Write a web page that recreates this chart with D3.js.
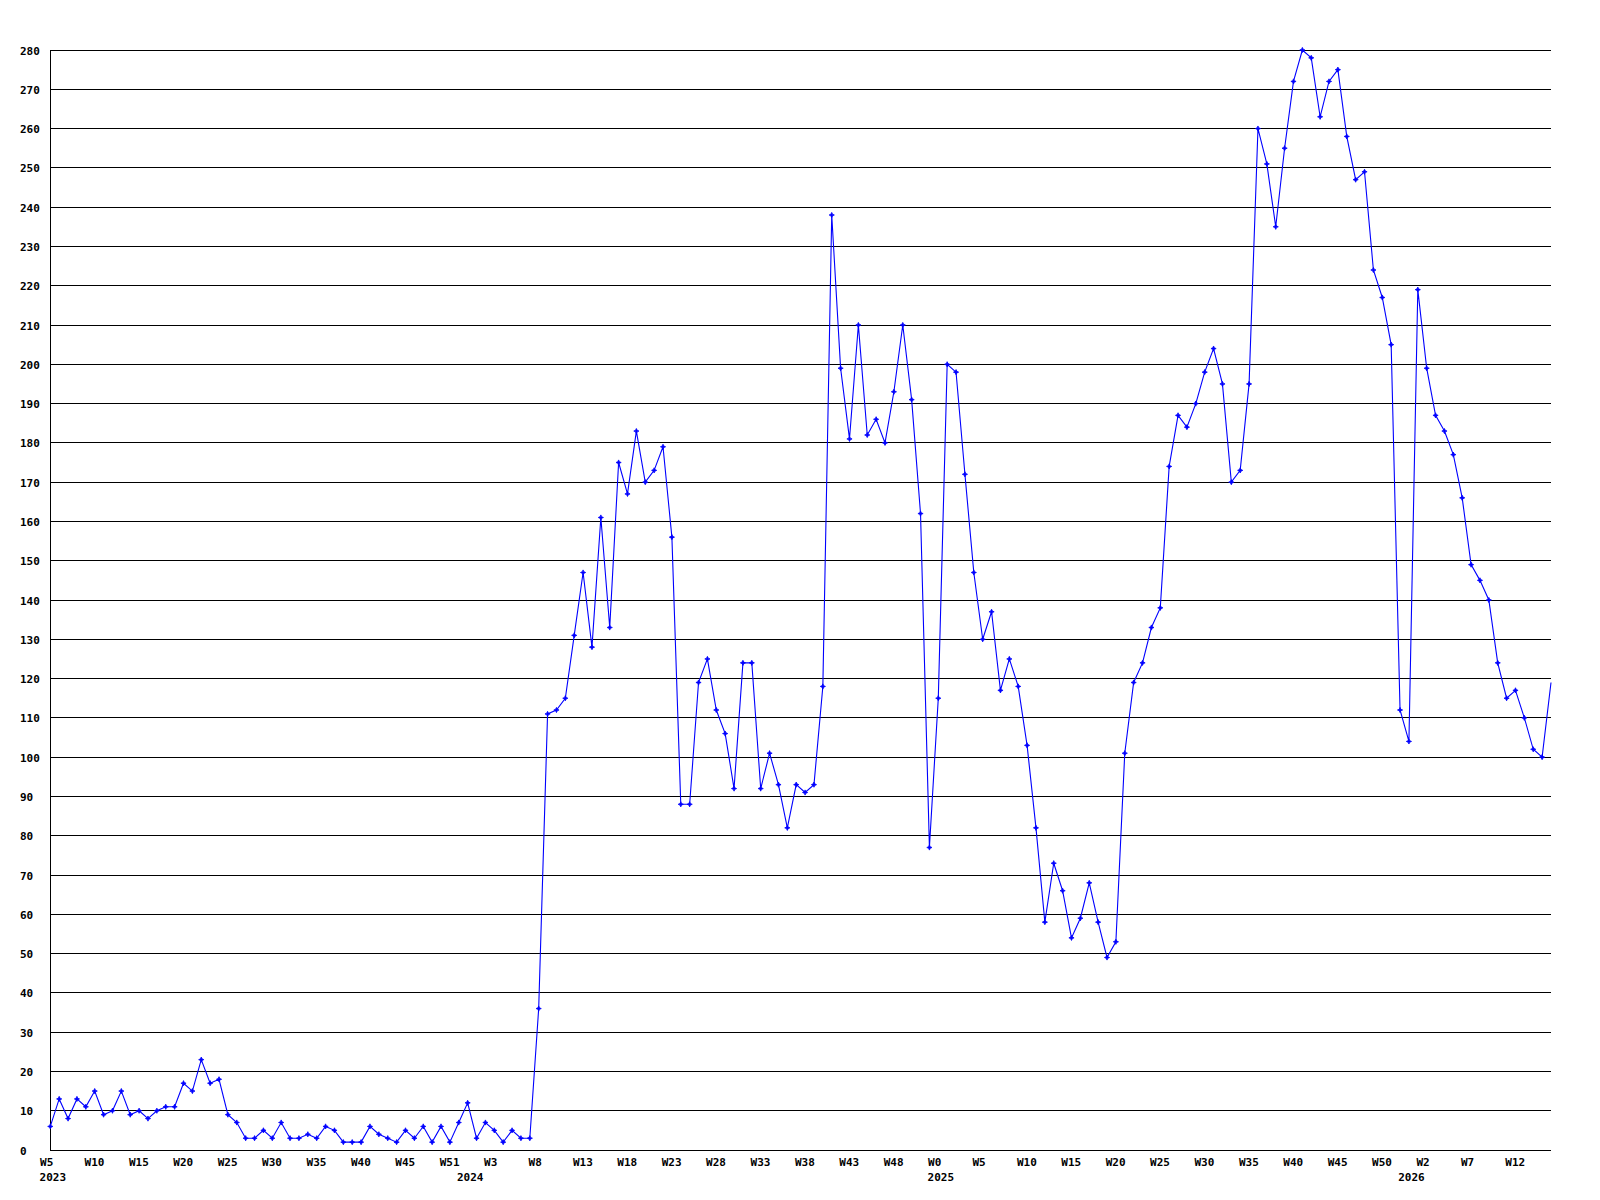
<!DOCTYPE html>
<html><head><meta charset="utf-8">
<script src="https://cdn.jsdelivr.net/npm/d3@7"></script>
<style>body{margin:0;background:#fff}svg{display:block}</style>
</head><body><svg id="c" width="1600" height="1200"></svg>
<script>
// Weekly series (one value per week, starting 2023 W5)
const values = [
  6, 13, 8, 13, 11, 15, 9, 10, 15, 9,
  10, 8, 10, 11, 11, 17, 15, 23, 17, 18,
  9, 7, 3, 3, 5, 3, 7, 3, 3, 4,
  3, 6, 5, 2, 2, 2, 6, 4, 3, 2,
  5, 3, 6, 2, 6, 2, 7, 12, 3, 7,
  5, 2, 5, 3, 3, 36, 111, 112, 115, 131,
  147, 128, 161, 133, 175, 167, 183, 170, 173, 179,
  156, 88, 88, 119, 125, 112, 106, 92, 124, 124,
  92, 101, 93, 82, 93, 91, 93, 118, 238, 199,
  181, 210, 182, 186, 180, 193, 210, 191, 162, 77,
  115, 200, 198, 172, 147, 130, 137, 117, 125, 118,
  103, 82, 58, 73, 66, 54, 59, 68, 58, 49,
  53, 101, 119, 124, 133, 138, 174, 187, 184, 190,
  198, 204, 195, 170, 173, 195, 260, 251, 235, 255,
  272, 280, 278, 263, 272, 275, 258, 247, 249, 224,
  217, 205, 112, 104, 219, 199, 187, 183, 177, 166,
  149, 145, 140, 124, 115, 117, 110, 102, 100, 119
];
// Week labels shown every 5th point
const tickLabels = ["W5","W10","W15","W20","W25","W30","W35","W40","W45","W51",
  "W3","W8","W13","W18","W23","W28","W33","W38","W43","W48",
  "W0","W5","W10","W15","W20","W25","W30","W35","W40","W45",
  "W50","W2","W7","W12"];
const tickStep = 5;
const yearLabels = ["2023","2024","2025","2026"];
const yearStartIndex = [0, 47, 100, 153];
const yTicks = d3.range(0, 281, 10);

const FONT = "'DejaVu Sans Mono', 'Liberation Mono', monospace";
const pL = 50, pR = 1551, pT = 50, pB = 1150;

const svg = d3.select("#c");
svg.append("rect").attr("width",1600).attr("height",1200).attr("fill","#fff");

const x = d3.scaleLinear().domain([0, values.length - 1]).range([pL + 0.3, pR]);
const y = d3.scaleLinear().domain([0, 280]).range([pB, pT]);

// gridlines
svg.append("g").selectAll("line").data(yTicks.filter(v => v > 0)).join("line")
  .attr("x1", pL).attr("x2", pR)
  .attr("y1", d => Math.floor(y(d)) + 0.5).attr("y2", d => Math.floor(y(d)) + 0.5)
  .attr("stroke", "#000").attr("stroke-width", 1).attr("shape-rendering","crispEdges");

// axis lines
svg.append("line").attr("x1", pL + 0.5).attr("x2", pL + 0.5).attr("y1", pT).attr("y2", pB + 1)
  .attr("stroke","#000").attr("shape-rendering","crispEdges");
svg.append("line").attr("x1", pL).attr("x2", pR).attr("y1", pB + 0.5).attr("y2", pB + 0.5)
  .attr("stroke","#000").attr("shape-rendering","crispEdges");

// y axis labels
const yAxis = svg.append("g").attr("transform", `translate(${pL},0)`)
  .call(d3.axisLeft(y).tickValues(yTicks).tickSize(0).tickFormat(d3.format("d")));
yAxis.select(".domain").remove();
yAxis.selectAll("text")
  .attr("x", 20 - pL).attr("dy", null).attr("y", 4)
  .attr("text-anchor", "start")
  .style("font-family", FONT).style("font-weight", "bold").style("font-size", "11px").attr("fill","#000");

// x axis labels
const xTickIdx = d3.range(0, values.length, tickStep);
const xAxis = svg.append("g").attr("transform", `translate(0,${pB})`)
  .call(d3.axisBottom(x).tickValues(xTickIdx).tickSize(0)
    .tickFormat((d, i) => tickLabels[i]));
xAxis.select(".domain").remove();
xAxis.selectAll("text")
  .attr("x", -10.7).attr("y", 16).attr("dy", null)
  .attr("text-anchor", "start")
  .style("font-family", FONT).style("font-weight", "bold").style("font-size", "11px").attr("fill","#000");

// year labels
svg.append("g").selectAll("text").data(yearLabels).join("text")
  .attr("x", (d, i) => x(yearStartIndex[i]) - 10.7)
  .attr("y", pB + 31)
  .attr("text-anchor", "start")
  .style("font-family", FONT).style("font-weight", "bold").style("font-size", "11px")
  .attr("fill","#000").text(d => d);

// series line
const line = d3.line().x((d, i) => x(i)).y(d => y(d));
svg.append("path").datum(values).attr("d", line)
  .attr("fill","none").attr("stroke","#0000ff").attr("stroke-width",1.1);

// markers (last point sits on the plot edge and has none)
const marker = "M-2.6,0L-0.8,-0.8L0,-2.6L0.8,-0.8L2.6,0L0.8,0.8L0,2.6L-0.8,0.8Z";
svg.append("g").selectAll("path").data(values.slice(0, values.length - 1)).join("path")
  .attr("transform", (d, i) => `translate(${x(i)},${y(d)})`)
  .attr("d", marker)
  .attr("fill","#0000ff").attr("stroke","#0000ff").attr("stroke-width",0.8);
</script>
</body></html>
